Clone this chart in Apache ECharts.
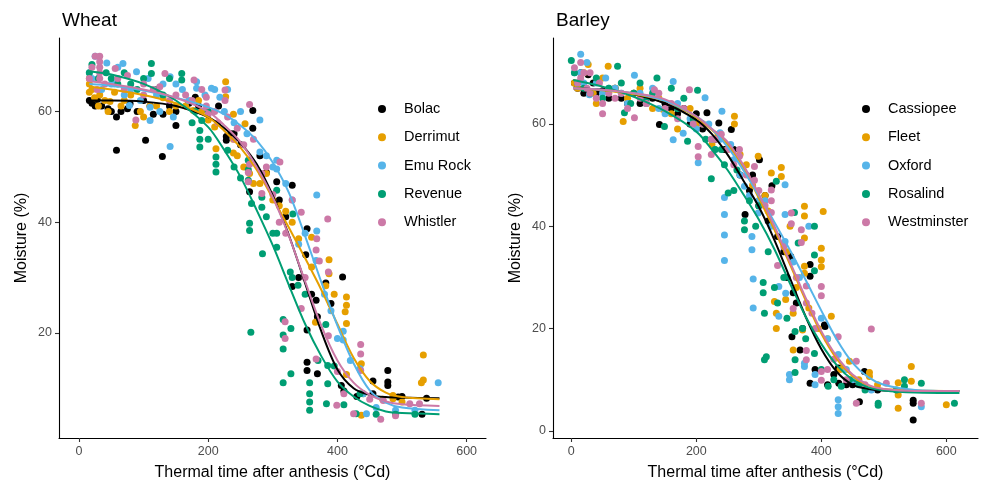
<!DOCTYPE html>
<html>
<head>
<meta charset="utf-8">
<script src="https://cdn.jsdelivr.net/npm/echarts@6/dist/echarts.min.js"></script>
<style>
html,body{margin:0;padding:0;background:#fff;}
#chart{width:982px;height:491px;}
</style>
</head>
<body>
<div id="chart"></div>
<script>
// ---------- categories ----------
const wheatVarieties = ['Bolac', 'Derrimut', 'Emu Rock', 'Revenue', 'Whistler'];
const barleyVarieties = ['Cassiopee', 'Fleet', 'Oxford', 'Rosalind', 'Westminster'];
const varietyColors = ['#000000', '#E69F00', '#56B4E9', '#009E73', '#CC79A7'];

// ---------- tick labels ----------
const xTicks = [0, 200, 400, 600];
const wheatYTicks = [20, 40, 60];
const barleyYTicks = [0, 20, 40, 60];

// ---------- Wheat observations [thermal time, moisture] ----------
const bolacPts = [[16,62],[20,61.5],[25,61],[28,62.2],[35,61],[45,60.5],[50,60],[58,59],[58,53],[65,60],[75,60.5],[79,61.4],[90,60],[100,62],[103,54.8],[110,61],[115,59.5],[130,59.5],[129,51.9],[140,61],[150,57.5],[150,60],[170,61.5],[180,62.6],[185,61],[200,60],[216,61],[228,54.8],[228,55.5],[235,56],[240,56],[250,54],[264,45.5],[269,60.2],[269,57],[280,52],[290,49],[306,47.3],[310,44],[320,41],[330,28.4],[330,46.7],[340,30],[351,34.1],[353,38.8],[353,20.5],[353,14.7],[353,13.2],[360,27],[367,25.9],[369,22.9],[369,12.6],[382,29],[390,25.3],[406,10.5],[408,30.1],[410,9.5],[430,8.5],[455,11.3],[455,9],[478,13.2],[478,11.1],[478,10.5],[494,8.4],[500,8.5],[531,5.3],[538,8.2]];
const derrimutPts = [[16,63.5],[16,65],[16,66],[20,64],[24,62.5],[30,61],[32,63],[40,62],[45,60],[48,61.8],[55,63.5],[65,61],[70,62],[80,63],[87,57.5],[95,60],[100,59],[110,61],[120,61],[130,62.5],[140,60],[150,61],[165,61],[177,60.2],[185,62],[190,60],[200,58.5],[210,57.2],[212,53.3],[227,65.4],[227,62.7],[239,52.5],[239,55],[239,59.5],[245,52],[255,50],[257,57.8],[264,48.8],[270,47],[280,47],[290,48.8],[300,44],[310,43],[320,42],[330,40],[340,37],[360,37.3],[360,31.9],[366,21.9],[382,28.5],[387,33.2],[387,30.7],[395,27],[412,23.8],[414,25],[414,26.5],[414,21.7],[414,12.5],[437,14.4],[437,5.1],[440,9],[470,8],[486,8.7],[486,8.1],[500,7.5],[533,16],[533,11.5],[530,11]];
const emuRockPts = [[16,67],[20,66],[25,70],[30,66],[35,64],[43,68.8],[50,65],[55,65],[60,68],[68,68.7],[70,63],[78,61.1],[80,64],[89,67.2],[95,62],[107,66],[110,58.4],[110,60.8],[120,63],[125,60],[130,65],[141,53.7],[141,66.3],[146,59],[150,65],[160,64],[170,62],[182,64.2],[182,65.4],[195,63],[205,64.2],[210,64],[218,62.6],[225,60],[230,64],[240,58],[250,60],[260,56],[280,58.5],[280,52.7],[290,52],[300,50],[306,51.2],[306,49.6],[320,47],[330,44],[340,36],[350,38],[367,33.1],[368,44.9],[368,38.4],[380,27],[390,24],[400,19],[409,18.7],[409,20.3],[420,15],[435,13.5],[440,9],[445,5.4],[460,6.5],[490,6],[520,6],[556,11]];
const revenuePts = [[16,67],[20,68.5],[30,66],[42,67],[50,66],[60,65],[70,67],[80,65],[90,64],[100,66],[112,68.7],[112,66.9],[120,64],[130,63],[140,66],[159,66.9],[159,65.7],[175,58],[180,60],[187,53.6],[187,55],[187,56.6],[190,58.4],[200,60],[200,55],[212,49.1],[212,50.5],[212,51.8],[230,53],[240,50],[250,48],[262,47.6],[262,49.5],[262,51.2],[267,43.4],[264,38.5],[264,39.8],[283,42.7],[283,44.5],[266,20.1],[284,34.3],[290,41],[300,38],[306,35.5],[306,45.8],[306,38],[316,22.4],[316,19.6],[316,17.1],[316,11],[327,31],[328,12.6],[328,20.8],[330,30],[331,41.5],[339,28.6],[350,27],[357,11],[357,9],[357,7.5],[357,6],[370,15],[382,21.5],[383,7.2],[385,10.8],[385,14.1],[395,14],[410,7],[429,5.4],[435,9],[460,5.3],[490,5.3],[520,5.3]];
const whistlerPts = [[16,66],[20,68],[25,70],[28,64],[32,70],[32,69],[32,68],[32,67],[32,66],[40,65],[56,67.8],[60,66],[70,64],[75,66.5],[88,58.5],[100,65],[100,63],[115,64],[125,64.5],[133,66.9],[140,62],[150,63],[165,63],[175,62],[178,65.7],[190,64],[197,61],[197,62.6],[200,59.5],[210,60],[215,58],[226,62],[226,63.9],[230,59],[240,55],[245,57],[255,54],[262,47.3],[262,49],[264,61.3],[264,50.5],[270,55],[283,45.2],[283,48.8],[290,50],[300,45],[310,40],[311,50.9],[319,22],[319,19],[320,38],[330,44],[344,41.8],[344,24.4],[350,30],[367,35],[367,15.3],[368,37],[372,33],[385,40.6],[386,31],[386,19.5],[399,6.9],[400,13],[410,9],[425,5.4],[436,17.9],[436,16.2],[436,13.2],[450,8],[467,4.4],[471,7.8],[490,5],[512,7.2],[527,7.2]];

// ---------- Barley observations ----------
const cassiopeePts = [[5,68],[10,67],[15,70],[20,66],[27,69.6],[35,68],[40,66],[50,66.5],[60,65],[70,67],[80,65],[90,64],[100,66],[110,64],[120,65],[130,65],[141,59.9],[150,64],[160,63],[170,62],[180,63],[190,60],[200,62],[210,59],[217,62.2],[230,57],[236,60.2],[245,55],[256,58.9],[260,55],[270,50],[278,42.3],[285,47],[290,50],[300,44],[301,53],[310,46],[315,41],[321,47.9],[330,38],[340,35],[345,30],[351,34.1],[353,18.4],[355,27],[360,25],[366,15.8],[370,20],[382,30.2],[382,32.5],[382,9.3],[390,12],[406,20.4],[405,20.7],[410,9],[420,11],[428,9.3],[427,12.3],[440,9],[450,9],[461,5.7],[469,11.6],[490,8],[547,5.4],[547,2.1],[547,6]];
const fleetPts = [[5,68],[10,67],[20,70],[27,71.6],[35,66],[40,64],[50,69],[59,71.3],[70,67],[83,60.5],[90,65],[100,66],[110,67],[120,64],[130,63],[140,65],[147,62.8],[160,62],[170,59],[190,63],[200,60],[210,60],[225,56],[235,58],[250,55],[261,61.5],[261,60],[270,54],[280,52],[290,48],[299,53.7],[300,45],[310,46],[315,43],[320,50.4],[325,25.3],[328,23],[328,20],[336,49.7],[336,51.5],[343,25.7],[345,35],[350,40],[355,23],[355,15.8],[360,28],[370,19.7],[373,43.9],[373,42],[373,37.7],[373,30.8],[373,32.2],[380,24],[395,20],[400,35.7],[400,32.1],[400,33.4],[403,42.9],[410,18],[416,22.4],[430,12],[445,13.6],[460,10],[477,10.6],[477,11.4],[490,9],[523,4.4],[523,7],[523,9.4],[544,12.6],[544,9.7],[600,5.1]];
const oxfordPts = [[5,70],[15,73.6],[15,70],[20,68],[25,72],[29,65.7],[40,68],[50,66],[55,69],[60,67],[70,67],[80,66],[90,64],[101,69.5],[110,66],[120,64],[130,67],[140,63],[150,62],[163,68.3],[163,56.9],[170,64],[179,58.2],[190,61],[200,59],[203,52.4],[214,65.1],[220,60],[225,57],[230,55],[241,62.5],[238,57],[238,58.3],[245,42.3],[245,45.6],[245,38.3],[245,33.3],[255,56],[260,53],[270,50],[277,47.8],[285,46],[289,35.4],[289,38],[291,29.7],[291,24],[299,42.6],[300,45],[310,45],[320,40],[332,22.4],[332,28.2],[342,48.1],[342,42.3],[342,37],[343,26.9],[349,10],[349,11],[355,33],[365,30],[373,12.6],[373,13.2],[380,40],[390,9],[390,11],[400,22],[410,18],[427,4.7],[427,6.1],[427,3.4],[427,14.9],[440,12],[450,10],[480,8],[560,4.7]];
const rosalindPts = [[0,72.4],[5,70],[10,68],[20,67],[30,66],[40,69],[50,65],[60,67],[74,71.3],[80,68],[85,62.2],[95,64],[100,66],[110,68],[120,65],[130,66],[137,69],[149,59.5],[160,67],[170,63],[180,65],[186,56.6],[195,61],[202,66.6],[210,60],[215,57],[224,49.3],[230,55],[240,55],[245,52],[251,46.5],[260,47],[265,51],[277,41],[277,39.3],[285,45],[295,40],[300,44],[307,27],[307,29],[309,23],[309,13.9],[312,14.5],[315,35],[325,28],[328,48.8],[330,25],[340,30],[345,22],[357,42.7],[358,19.4],[358,13.9],[358,11.4],[363,36.7],[370,20],[375,18],[389,40],[389,34.4],[389,31.3],[389,15.1],[400,12],[411,8.7],[420,10],[432,8.7],[445,10],[460,9],[470,8],[491,5.4],[491,5],[520,8],[533,8.7],[533,10],[560,9.3],[613,5.4]];
const westminsterPts = [[5,71],[10,68],[15,69],[15,72],[20,70],[25,67],[30,66],[30,70],[40,65],[45,68],[50,62],[50,64],[60,66],[70,65],[80,66],[90,63],[101,61.2],[110,65],[120,64],[133,66.7],[140,66],[150,63],[160,64],[170,61],[180,63],[189,66.7],[195,60],[203,53.6],[203,55.6],[210,60],[224,54],[224,57],[230,57],[240,58],[250,55],[260,52],[269,53.7],[269,55],[280,50],[293,49],[293,51.7],[300,47],[310,44],[320,42.7],[320,45],[320,47.1],[330,32.3],[340,36],[352,40.5],[352,42.6],[355,23.9],[360,30],[368,36.8],[368,39.3],[376,25],[376,28.3],[376,15.7],[376,13.9],[385,23],[390,20],[400,28.2],[400,26.4],[400,9.9],[400,11.6],[410,12],[420,14],[427,18.4],[440,10],[456,13.6],[456,5.4],[470,9],[480,19.9],[504,9.3],[560,5.4]];

// ---------- fitted curves ----------
const wheatCurveX = [16, 50, 100, 150, 200, 225, 250, 275, 300, 325, 350, 375, 400, 425, 450, 475, 500, 558];
const bolacFit    = [62, 62, 61.8, 61, 59, 57, 54.3, 50.5, 44.8, 37.6, 29, 20.3, 13.4, 10, 8.8, 8.4, 8.3, 8.2];
const derrimutFit = [64.5, 64, 63, 61.5, 59, 56.5, 53.5, 49.5, 44.3, 39, 33.5, 27.8, 21.6, 15.5, 11.3, 9.2, 8.4, 8.0];
const emuRockFit  = [65, 64.7, 63.8, 62.5, 60.8, 59.5, 57.5, 54.8, 50.8, 45.3, 37.5, 29.2, 21.3, 14.5, 9.6, 7.4, 6.5, 6.0];
const revenueFit  = [67.3, 66.7, 65, 62, 57.2, 53, 48.2, 42.2, 35.8, 28.6, 21.6, 15.8, 11.2, 8.5, 6.8, 5.8, 5.5, 5.3];
const whistlerFit = [65.5, 65, 64, 62.5, 60, 57.5, 54.5, 50, 44.5, 37.5, 29.3, 21.3, 15, 11, 8.8, 7.6, 7.1, 6.8];

const barleyCurveX = [3, 50, 100, 150, 200, 225, 250, 275, 300, 325, 350, 375, 400, 425, 450, 475, 500, 550, 621];
const cassiopeeFit   = [67, 66.7, 65.8, 64, 60.8, 58, 54, 49, 43.8, 37.3, 29.8, 22.3, 16, 11.5, 9, 8.2, 7.9, 7.8, 7.8];
const fleetFit       = [67, 66.6, 65.8, 64.5, 61.3, 58.8, 56, 51.5, 45.5, 39.3, 32.5, 25.5, 19, 14, 10.7, 8.9, 8.2, 7.9, 7.8];
const oxfordFit      = [67, 66.7, 66, 64.5, 61.5, 59, 55.5, 51, 46, 40.8, 35.3, 29.5, 23.5, 17.8, 13.3, 10.5, 9, 8, 7.8];
const rosalindFit    = [68.6, 67.3, 65.3, 62.5, 58.5, 55, 51, 46.3, 41.3, 35.5, 28.8, 22.3, 17, 12.8, 10, 8.5, 7.9, 7.5, 7.4];
const westminsterFit = [67, 66.7, 66, 64.8, 61.5, 59, 56.5, 52, 46.3, 40, 33, 26, 19.5, 14.5, 11, 9, 8.2, 7.8, 7.8];

const wheatPts = [bolacPts, derrimutPts, emuRockPts, revenuePts, whistlerPts];
const wheatFits = [bolacFit, derrimutFit, emuRockFit, revenueFit, whistlerFit];
const barleyPts = [cassiopeePts, fleetPts, oxfordPts, rosalindPts, westminsterPts];
const barleyFits = [cassiopeeFit, fleetFit, oxfordFit, rosalindFit, westminsterFit];

const FONT = 'Liberation Sans, Arial, Helvetica, sans-serif';

function xAxisCfg(gi, min, max) {
  return {
    type: 'value', gridIndex: gi, min: min, max: max,
    name: 'Thermal time after anthesis (°Cd)', nameLocation: 'middle', nameGap: 27,
    nameTextStyle: { fontFamily: FONT, fontSize: 16, color: '#000' },
    axisLine: { show: true, onZero: false, lineStyle: { color: '#000', width: 1.1 } },
    axisTick: { show: true, length: 4, lineStyle: { color: '#333', width: 1.1 }, customValues: xTicks },
    axisLabel: { fontFamily: FONT, fontSize: 12.5, color: '#4D4D4D', margin: 7, customValues: xTicks },
    splitLine: { show: false }
  };
}
function yAxisCfg(gi, min, max, ticks) {
  return {
    type: 'value', gridIndex: gi, min: min, max: max,
    name: 'Moisture (%)', nameLocation: 'middle', nameGap: 29,
    nameTextStyle: { fontFamily: FONT, fontSize: 16, color: '#000' },
    axisLine: { show: true, onZero: false, lineStyle: { color: '#000', width: 1.1 } },
    axisTick: { show: true, length: 4, lineStyle: { color: '#333', width: 1.1 }, customValues: ticks },
    axisLabel: { fontFamily: FONT, fontSize: 12.5, color: '#4D4D4D', margin: 7, customValues: ticks },
    splitLine: { show: false }
  };
}

const series = [];
function addPanel(names, pts, fits, curveX, gi) {
  names.forEach((n, i) => {
    series.push({
      type: 'scatter', name: n, xAxisIndex: gi, yAxisIndex: gi,
      data: pts[i], symbol: 'circle', symbolSize: 7,
      itemStyle: { color: varietyColors[i], opacity: 1 }, z: 2, silent: true
    });
  });
  names.forEach((n, i) => {
    series.push({
      type: 'line', name: n, xAxisIndex: gi, yAxisIndex: gi,
      data: curveX.map((x, k) => [x, fits[i][k]]),
      showSymbol: false, smooth: 0.3,
      lineStyle: { color: varietyColors[i], width: 2 }, itemStyle: { color: varietyColors[i] },
      z: 3, silent: true
    });
  });
}
addPanel(wheatVarieties, wheatPts, wheatFits, wheatCurveX, 0);
addPanel(barleyVarieties, barleyPts, barleyFits, barleyCurveX, 1);

function legendCfg(names, left, pad) {
  return {
    orient: 'vertical', left: left, top: 96,
    itemWidth: 8, itemHeight: 8, itemGap: 12.3,
    icon: 'circle', selectedMode: false,
    data: names.map(n => ({ name: n, icon: 'circle' })),
    textStyle: { fontFamily: FONT, fontSize: 14.5, color: '#000', lineHeight: 16, padding: [0, 0, 0, pad] }
  };
}

const chart = echarts.init(document.getElementById('chart'), null, { renderer: 'canvas' });
chart.setOption({
  animation: false,
  backgroundColor: '#fff',
  title: [
    { text: 'Wheat', left: 57, top: 6, textStyle: { fontFamily: FONT, fontSize: 19, fontWeight: 'normal', color: '#000' } },
    { text: 'Barley', left: 551, top: 6, textStyle: { fontFamily: FONT, fontSize: 19, fontWeight: 'normal', color: '#000' } }
  ],
  grid: [
    { left: 59, top: 38, width: 427, height: 400 },
    { left: 553, top: 38, width: 425, height: 400 }
  ],
  xAxis: [xAxisCfg(0, -31, 630), xAxisCfg(1, -29.3, 650.7)],
  yAxis: [yAxisCfg(0, 1, 73.3, wheatYTicks), yAxisCfg(1, -1.4, 76.8, barleyYTicks)],
  legend: [legendCfg(wheatVarieties, 373, 13), legendCfg(barleyVarieties, 857, 13)],
  series: series
});
</script>
</body>
</html>
